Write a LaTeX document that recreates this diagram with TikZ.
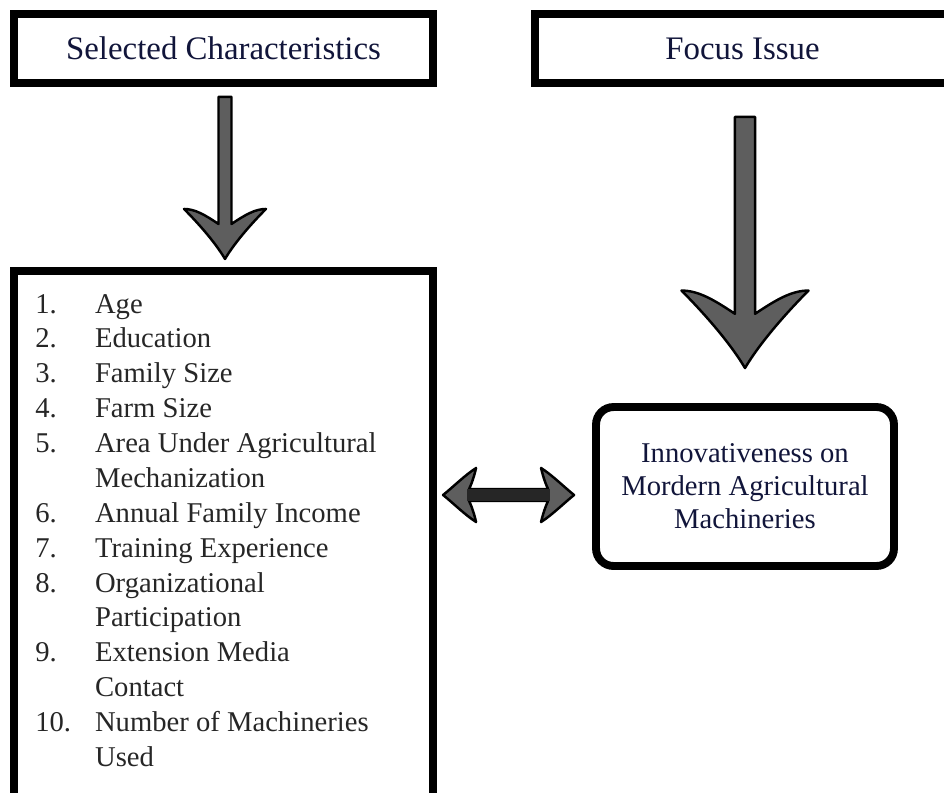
\documentclass[tikz,border=0pt]{standalone}
\usepackage{fontspec}
\setmainfont{Liberation Serif}
\usetikzlibrary{calc}

\definecolor{navytext}{HTML}{11153A}
\definecolor{listtext}{HTML}{262626}
\definecolor{arrowgray}{HTML}{5E5E5E}

\tikzstyle{headbox}= [rectangle,draw,black,line width=4.5pt,minimum height=1.38cm,text=navytext,font=\fontsize{18.7}{22}\selectfont]
\tikzstyle{listbox}= [rectangle,draw,black,line width=4.5pt,minimum width=8.38cm,minimum height=11.2cm,anchor=north]
\tikzstyle{resultbox}= [rectangle,rounded corners=0.35cm,draw,black,line width=4.5pt,minimum width=5.96cm,minimum height=3.18cm,align=center,text=navytext,font=\fontsize{16.3}{18.7}\selectfont]
\tikzstyle{arrowshape}= [draw=black,fill=arrowgray,line width=1.4pt,line join=round]

\tikzset{downarrow/.pic={
  \path[arrowshape] (-6.5,0) -- (-6.5,127) .. controls (-20,118) and (-30,112) .. (-41,112)
    .. controls (-28,125) and (-10,145) .. (0,162)
    .. controls (10,145) and (28,125) .. (41,112)
    .. controls (30,112) and (20,118) .. (6.5,127) -- (6.5,0) -- cycle;
}}

\begin{document}
\begin{tikzpicture}[x=0.02cm,y=-0.02cm]
	\useasboundingbox (0,0) rectangle (944,792);
	\clip (0,0) rectangle (944,792);

	\node (sel) at (223.5,48.5) [headbox,minimum width=8.38cm] {Selected Characteristics};
	\node (focus) at (742.5,48.5) [headbox,minimum width=8.3cm] {Focus Issue};

	\node (charbox) at (223.5,267) [listbox] {};
	\node (items) at (35,313) [anchor=base west,inner sep=0pt,text=listtext,font=\fontsize{16.3}{19.85}\selectfont]
	{\begin{tabular}[t]{@{}p{34pt}@{}l@{}}
		1. & Age\\
		2. & Education\\
		3. & Family Size\\
		4. & Farm Size\\
		5. & Area Under Agricultural\\
		   & Mechanization\\
		6. & Annual Family Income\\
		7. & Training Experience\\
		8. & Organizational\\
		   & Participation\\
		9. & Extension Media\\
		   & Contact\\
		10. & Number of Machineries\\
		    & Used
	\end{tabular}};

	\node (innov) at (745,486.5) [resultbox] {Innovativeness on\\Mordern Agricultural\\Machineries};

	\coordinate (a1s) at ($(sel.south)+(1.5,10)$);
	\coordinate (a2s) at ($(focus.south)+(2.5,30)$);
	\pic at (a1s) {downarrow};
	\pic[scale=1.55] at (a2s) {downarrow};

	\coordinate (dl) at ($(innov.west)+(-149,8.5)$);
	\begin{scope}[shift={(dl)}]
		\path[arrowshape] (0,0) .. controls (10,-8) and (22,-20) .. (33,-27)
			.. controls (31,-18) and (28,-10) .. (26,-6) -- (105,-6)
			.. controls (103,-10) and (100,-18) .. (98,-27)
			.. controls (109,-20) and (121,-8) .. (131,0)
			.. controls (121,8) and (109,20) .. (98,27)
			.. controls (100,18) and (103,10) .. (105,6) -- (26,6)
			.. controls (28,10) and (31,18) .. (33,27)
			.. controls (22,20) and (10,8) .. (0,0) -- cycle;
		\draw[black!85,line width=7pt] (24,0) -- (107,0);
	\end{scope}
\end{tikzpicture}
\end{document}
